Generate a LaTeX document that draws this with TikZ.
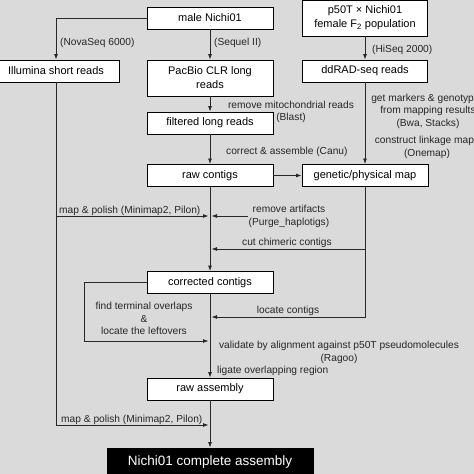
\documentclass[tikz,border=0pt]{standalone}
\usepackage{fontspec}
\setmainfont{Liberation Sans}
\usetikzlibrary{arrows.meta}
\definecolor{bg}{RGB}{218,218,218}
\definecolor{ln}{RGB}{40,40,40}
\begin{document}
\begin{tikzpicture}[x=1pt,y=-1pt,
  box/.style={draw=black,line width=0.9pt,fill=white,inner sep=0pt,minimum height=22pt,minimum width=126pt,font=\fontsize{11}{14}\selectfont,align=center},
  lbl/.style={inner sep=0pt,font=\fontsize{10.2}{12.5}\selectfont,align=center,text=black!85},
  conn/.style={draw=ln,line width=0.8pt},
  arr/.style={conn,-{Latex[length=5.5pt,width=4pt]}}]
\useasboundingbox (0,0) rectangle (474,474);
\fill[bg] (0,0) rectangle (474,474);
\begin{scope}
\clip (0,0) rectangle (474,474);
% boxes
\node[box] (male) at (210,18) {male Nichi01};
\node[box,minimum width=125pt,minimum height=36pt] (p50) at (365,18) {p50T × Nichi01\\female F\textsubscript{2} population};
\node[box] (illum) at (56,71) {Illumina short reads};
\node[box,minimum height=36pt] (pacbio) at (210,78) {PacBio CLR long\\reads};
\node[box] (filt) at (210,123) {filtered long reads};
\node[box] (rawc) at (210,175.5) {raw contigs};
\node[box,minimum width=125pt] (ddrad) at (365,71) {ddRAD-seq reads};
\node[box] (gmap) at (365,175.5) {genetic/physical map};
\node[box] (corr) at (210,282.5) {corrected contigs};
\node[box] (rasm) at (210,389) {raw assembly};
\node[box,fill=black,text=white,minimum width=206pt,minimum height=28pt,font=\fontsize{13.5}{16}\selectfont] (final) at (210,462) {Nichi01 complete assembly};
% coordinates
\coordinate (mp1) at (208.5,216);
\coordinate (mp2) at (208.5,425);
\coordinate (raS) at (248,216);
\coordinate (raE) at (211.5,216);
\coordinate (cc) at (211.5,249);
\coordinate (lc) at (211.5,317);
\coordinate (flc) at (84,341);
\coordinate (fl) at (208.5,341);
% connectors
\draw[arr] (male.west) -| (illum.north);
\draw[arr] (male) -- (pacbio);
\draw[arr] (p50) -- (ddrad);
\draw[arr] (pacbio) -- (filt);
\draw[arr] (filt) -- (rawc);
\draw[arr] (ddrad) -- (gmap);
\draw[arr] (rawc) -- (gmap);
\draw[arr] (rawc) -- (corr);
\draw[arr] (corr) -- (rasm);
\draw[arr] (rasm) -- (final);
\draw[arr] (illum.south) |- (mp1);
\draw[arr] (illum.south) |- (mp2);
\draw[arr] (raS) -- (raE);
\draw[arr] (gmap.south) |- (lc);
\draw[arr] (gmap.south |- cc) -- (cc);
\draw[arr] (corr.west) -| (flc) -- (fl);
% labels
\node[lbl,anchor=west] (l1) at (60,43) {(NovaSeq 6000)};
\node[lbl,anchor=west] (l2) at (214,43) {(Sequel II)};
\node[lbl,anchor=west] (l3) at (372,50) {(HiSeq 2000)};
\node[lbl] (l4) at (291,112) {remove mitochondrial reads\\(Blast)};
\node[lbl,anchor=west] (l5) at (226,152) {correct \& assemble (Canu)};
\node[lbl] (l6) at (428,111) {get markers \& genotypes\\from mapping results\\(Bwa, Stacks)};
\node[lbl] (l7) at (427,147.5) {construct linkage maps\\(Onemap)};
\node[lbl,anchor=base west] (l8) at (59,213) {map \& polish (Minimap2, Pilon)};
\node[lbl] (l9) at (289,216.5) {remove artifacts\\(Purge\_haplotigs)};
\node[lbl] (l10) at (287,243) {cut chimeric contigs};
\node[lbl] (l11) at (288,311) {locate contigs};
\node[lbl] (l12) at (144,318.5) {find terminal overlaps\\\&\\locate the leftovers};
\node[lbl] (l13) at (339,352.5) {validate by alignment against p50T pseudomolecules\\(Ragoo)};
\node[lbl,anchor=west] (l14) at (217,371) {ligate overlapping region};
\node[lbl,anchor=base west] (l15) at (61,422) {map \& polish (Minimap2, Pilon)};
\end{scope}
\end{tikzpicture}
\end{document}
